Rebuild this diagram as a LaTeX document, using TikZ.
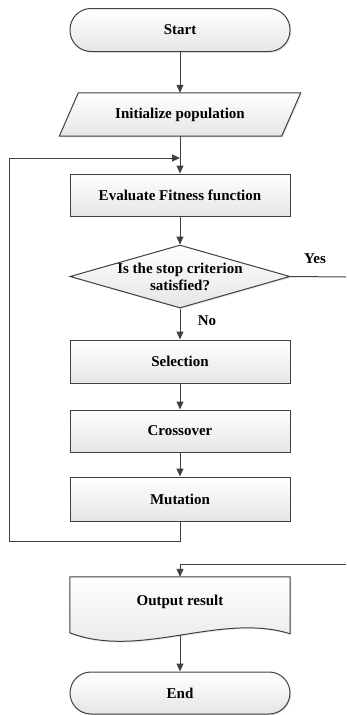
\documentclass[tikz,border=0pt]{standalone}
\usepackage{fontspec}
\setmainfont{Liberation Serif}
\usetikzlibrary{arrows.meta, shapes.geometric, shadows, backgrounds}
\definecolor{ink}{gray}{0.25}
\definecolor{pale}{gray}{0.9}
\definecolor{shadowgray}{gray}{0.8}
\tikzset{
  shaded/.style={draw=ink, line width=1pt, top color=white, bottom color=pale,
    drop shadow={shadow xshift=1.2pt, shadow yshift=-1.2pt, fill=shadowgray}},
  box/.style={shaded, rectangle, minimum width=220pt, minimum height=43pt, inner sep=0pt},
  terminal/.style={box, rounded corners=21pt},
  holder/.style={rectangle, minimum width=220pt, minimum height=43pt, inner sep=0pt},
  decision/.style={shaded, diamond, minimum width=220pt, minimum height=63pt, inner sep=0pt},
}

\begin{document}
\begin{tikzpicture}[x=1pt, y=-1pt, font=\fontsize{15}{17}\selectfont\bfseries,
  line/.style={draw=ink, line width=1pt},
  arr/.style={line, -{Triangle[length=8pt, width=7pt]}}]
\useasboundingbox (0,0) rectangle (346,715);
\def\xc{180}

\node[terminal] (start) at (\xc,30) {Start};

% slanted input box: node holds the text, the outline goes behind it
\node[holder, minimum width=222pt] (init) at (\xc,114.5) {Initialize population};
\begin{scope}[on background layer]
\path[shaded] ([xshift=-9.5pt]init.south west) -- ([xshift=9.5pt]init.north west)
  -- ([xshift=9.5pt]init.north east) -- ([xshift=-9.5pt]init.south east) -- cycle;
\end{scope}

\node[box, minimum height=42pt] (eval) at (\xc,195) {Evaluate Fitness function};
\node[decision] (stop) at (\xc,276.5) {};
\node[align=center, inner sep=0pt] (stoptxt) at (\xc,276.5) {Is the stop criterion\\satisfied?};
\node[box] (sel) at (\xc,361.5) {Selection};
\node[box, minimum height=42pt] (cross) at (\xc,431) {Crossover};
\node[box, minimum height=44pt] (mut) at (\xc,499) {Mutation};

% document shape with a wavy bottom
\node[holder, minimum height=50pt] (out) at (\xc,602) {Output result};
\begin{scope}[on background layer]
\path[shaded] (out.north west) -- (out.north east) -- ([yshift=-57pt]out.north east)
  .. controls +(-70pt,22pt) and +(70pt,-27pt) .. ([yshift=-56pt]out.north west) -- cycle;
\end{scope}
\coordinate (outw) at (\xc,635);

\node[terminal, minimum height=42pt] (end) at (\xc,693) {End};

% main flow
\draw[arr] (start) -- (init);
\draw[arr] (init) -- (eval);
\draw[arr] (eval) -- (stop);
\draw[arr] (stop) -- (sel) node[pos=0.4, right=14pt] (no) {No};
\draw[arr] (sel) -- (cross);
\draw[arr] (cross) -- (mut);
\draw[arr] (outw) -- (end);

% loop back to the evaluation
\coordinate (loopin) at (\xc,158);
\coordinate (loopbot) at (9,541);
\draw[arr] (mut.south) |- (loopbot) |- (loopin);

% exit when satisfied
\coordinate (yesend) at (346,277);
\coordinate (yesin) at (346,564);
\draw[line] (stop.east) -- (yesend);
\node (yes) at (315,259) {Yes};
\draw[arr] (yesin) -| (out.north);
\end{tikzpicture}
\end{document}
